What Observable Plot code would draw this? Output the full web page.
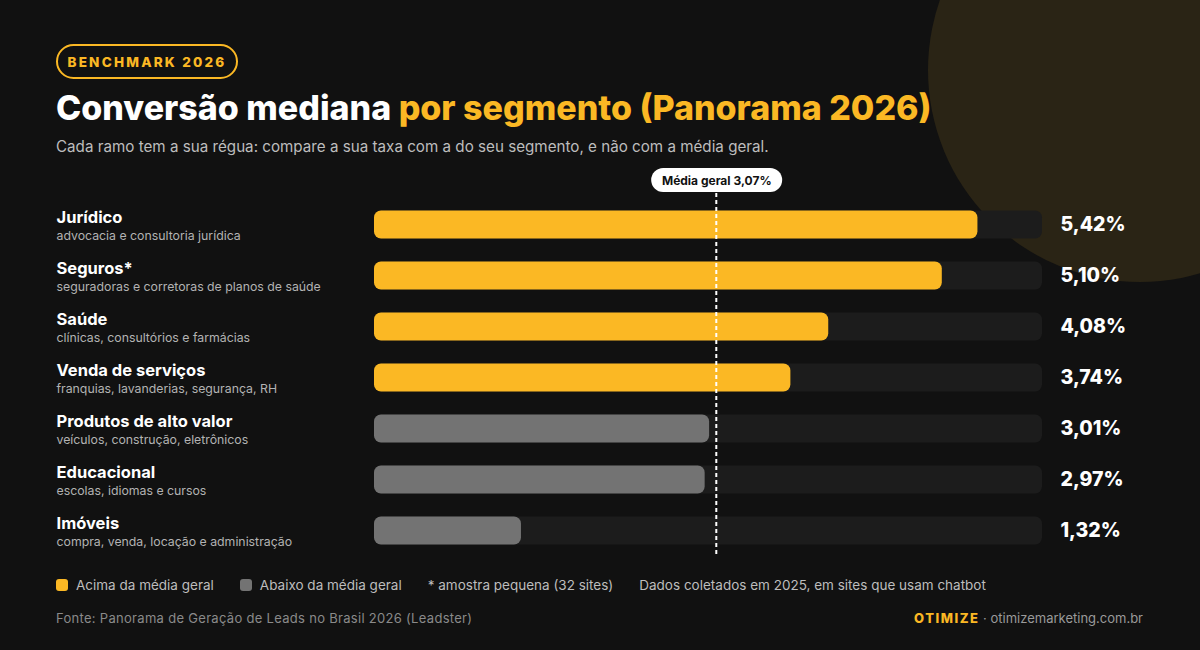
<!DOCTYPE html>
<html><head><meta charset="utf-8">
<script src="https://cdn.jsdelivr.net/npm/d3@7"></script>
<script src="https://cdn.jsdelivr.net/npm/@observablehq/plot@0.6"></script>
<style>
html,body{margin:0;padding:0;background:#111111;width:1200px;height:650px;overflow:hidden;font-family:Inter,"Open Sans",sans-serif;}
#page{position:relative;width:1200px;height:650px;overflow:hidden;}
#circle{position:absolute;left:928px;top:-142px;width:424px;height:424px;border-radius:50%;background:#2a2415;}
#badge{position:absolute;left:56px;top:44px;width:178px;height:31px;border:2px solid #fbb824;border-radius:18px;color:#fbb824;font-weight:800;font-size:13.5px;letter-spacing:2.2px;display:flex;align-items:center;justify-content:center;}
#title{position:absolute;left:56px;top:87px;font-size:34px;font-weight:800;color:#fff;letter-spacing:0;white-space:nowrap;}
#title span{color:#fbb824;}
#subtitle{position:absolute;left:56px;top:137px;font-size:15.2px;color:#bdbdbd;white-space:nowrap;}
#chart{position:absolute;left:0;top:160px;}
#pill{position:absolute;height:24px;padding:0 11px;border-radius:12px;background:#fff;color:#111;font-weight:700;font-size:12px;display:flex;align-items:center;white-space:nowrap;transform:translateX(-50%);}
#legend{position:absolute;left:56px;top:577px;font-size:13.5px;color:#bdbdbd;display:flex;align-items:center;white-space:nowrap;}
#legend .sw{width:12px;height:12px;border-radius:3px;display:inline-block;margin-right:8px;}
#legend .it{display:flex;align-items:center;margin-right:26px;}
#source{position:absolute;left:56px;top:610px;font-size:13px;color:#8a8a8a;letter-spacing:0.3px;white-space:nowrap;}
#brand{position:absolute;right:57px;top:610px;font-size:13px;color:#9a9a9a;white-space:nowrap;}
#brand b{color:#fbb824;letter-spacing:1.5px;font-weight:800;}
</style></head>
<body><div id="page">
<div id="circle"></div>
<div id="badge">BENCHMARK 2026</div>
<div id="title">Conversão mediana <span>por segmento (Panorama 2026)</span></div>
<div id="subtitle">Cada ramo tem a sua régua: compare a sua taxa com a do seu segmento, e não com a média geral.</div>
<div id="chart"></div>
<div id="pill"></div>
<div id="legend">
  <div class="it"><span class="sw" style="background:#fbb824"></span>Acima da média geral</div>
  <div class="it"><span class="sw" style="background:#737373"></span>Abaixo da média geral</div>
  <div class="it">* amostra pequena (32 sites)</div>
  <div class="it">Dados coletados em 2025, em sites que usam chatbot</div>
</div>
<div id="source">Fonte: Panorama de Geração de Leads no Brasil 2026 (Leadster)</div>
<div id="brand"><b>OTIMIZE</b> · otimizemarketing.com.br</div>
</div>
<script>
const segments = ["Jurídico","Seguros*","Saúde","Venda de serviços","Produtos de alto valor","Educacional","Imóveis"];
const descriptions = ["advocacia e consultoria jurídica","seguradoras e corretoras de planos de saúde","clínicas, consultórios e farmácias","franquias, lavanderias, segurança, RH","veículos, construção, eletrônicos","escolas, idiomas e cursos","compra, venda, locação e administração"];
const values = [5.42,5.10,4.08,3.74,3.01,2.97,1.32];
const overallMedian = 3.07;
const axisMax = 6;

const rows = segments.map((s,i)=>({segment:s, desc:descriptions[i], value:values[i], above: values[i] > overallMedian}));
const fmt = v => v.toFixed(2).replace(".", ",") + "%";
const YELLOW = "#fbb824", GRAY = "#737373";

const plot = Plot.plot({
  width: 1200, height: 410,
  marginLeft: 374, marginRight: 158, marginTop: 33, marginBottom: 13,
  style: {background: "transparent", fontFamily: "Inter, 'Open Sans', sans-serif"},
  x: {domain: [0, axisMax], axis: null},
  y: {domain: segments, range: [38.5, 395.5], padding: 0, axis: null},
  marks: [
    Plot.barX(rows, {y: "segment", x1: 0, x2: () => axisMax, fill: "#1c1c1c", rx: 7, insetTop: 11.5, insetBottom: 11.5}),
    Plot.barX(rows, {y: "segment", x1: 0, x2: "value", fill: d => d.above ? YELLOW : GRAY, rx: 7, insetTop: 11.5, insetBottom: 11.5}),
    Plot.ruleX([overallMedian], {stroke: "#fff", strokeWidth: 2, strokeDasharray: "4,3"}),
    Plot.text(rows, {y: "segment", x: () => axisMax, text: d => fmt(d.value), dx: 18, textAnchor: "start", fill: "#fff", fontSize: 19.5, fontWeight: 800}),
    Plot.text(rows, {y: "segment", frameAnchor: "left", dx: -318, dy: -7, text: "segment", textAnchor: "start", fill: "#fff", fontSize: 16.5, fontWeight: 700}),
    Plot.text(rows, {y: "segment", frameAnchor: "left", dx: -318, dy: 11, text: "desc", textAnchor: "start", fill: "#b3b3b3", fontSize: 12.3})
  ]
});
document.getElementById("chart").appendChild(plot);
const xs = plot.scale("x");
const pill = document.getElementById("pill");
pill.textContent = "Média geral " + fmt(overallMedian);
pill.style.left = (xs.apply(overallMedian) + 1) + "px";
pill.style.top = "168px";
</script>
</body></html>
